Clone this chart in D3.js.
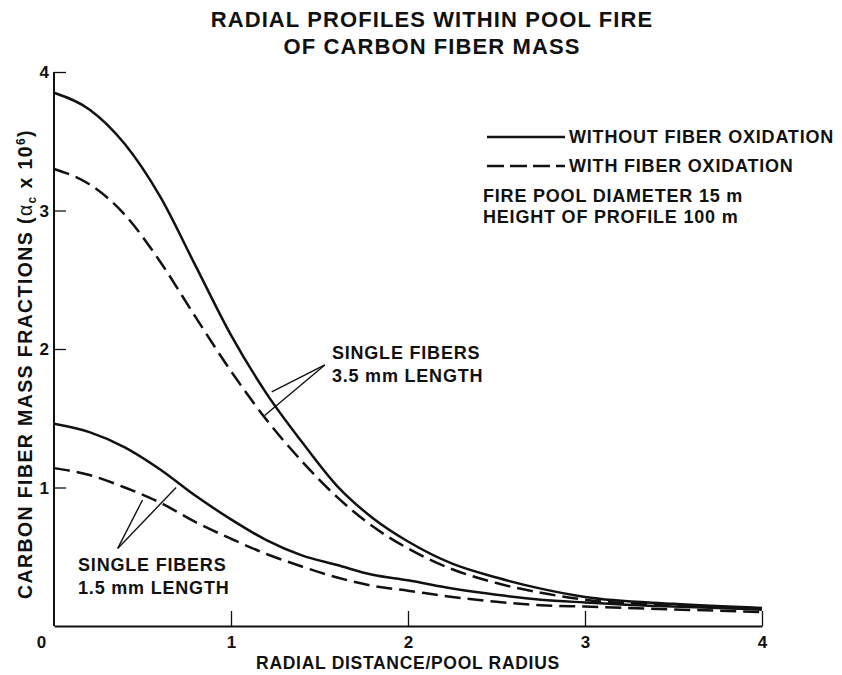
<!DOCTYPE html>
<html>
<head>
<meta charset="utf-8">
<script src="https://cdn.jsdelivr.net/npm/d3@7"></script>
<style>
  body { margin: 0; background: #fff; }
  svg text { font-family: "Liberation Sans", Arial, sans-serif; font-weight: bold; fill: #111; }
</style>
</head>
<body>
<div id="chart"></div>
<script>
// radial distance / pool radius
const radius = [0, 0.2, 0.4, 0.6, 0.8, 1.0, 1.2, 1.4, 1.6, 1.8, 2.0, 2.25, 2.5, 2.75, 3.0, 3.5, 4.0];

// carbon fiber mass fraction (alpha_c x 10^6)
const long_noOx   = [3.85, 3.73, 3.48, 3.10, 2.60, 2.10, 1.68, 1.33, 1.01, 0.78, 0.61, 0.45, 0.35, 0.27, 0.21, 0.16, 0.13];
const long_withOx = [3.30, 3.19, 2.97, 2.63, 2.23, 1.84, 1.49, 1.19, 0.93, 0.72, 0.56, 0.41, 0.31, 0.24, 0.19, 0.15, 0.12];
const short_noOx   = [1.46, 1.40, 1.29, 1.13, 0.94, 0.77, 0.62, 0.51, 0.44, 0.37, 0.33, 0.27, 0.225, 0.19, 0.17, 0.14, 0.12];
const short_withOx = [1.14, 1.09, 1.00, 0.89, 0.75, 0.63, 0.52, 0.43, 0.35, 0.29, 0.255, 0.21, 0.175, 0.15, 0.14, 0.12, 0.10];

const xTicks = [0, 1, 2, 3, 4];
const yTicks = [1, 2, 3, 4];

const titleLines = ["RADIAL PROFILES WITHIN POOL FIRE", "OF CARBON FIBER MASS"];
const legendItems = ["WITHOUT FIBER OXIDATION", "WITH FIBER OXIDATION"];
const notes = ["FIRE POOL DIAMETER 15 m", "HEIGHT OF PROFILE 100 m"];

// annotation anchors in data units: label, apex of the leaders, leader ends
const annotations = [
    {lines: ["SINGLE FIBERS", "3.5 mm LENGTH"], at: [1.57, 1.97], apex: [1.53, 1.885], ends: [[1.23, 1.69], [1.19, 1.52]]},
    {lines: ["SINGLE FIBERS", "1.5 mm LENGTH"], at: [0.136, 0.44], apex: [0.36, 0.56], ends: [[0.50, 0.91], [0.69, 1.00]]}
];

const W = 842, H = 675;
const svg = d3.select("#chart").append("svg")
    .attr("width", W)
    .attr("height", H);

const x = d3.scaleLinear().domain([0, 4]).range([54, 762]);
const y = d3.scaleLinear().domain([0, 4]).range([626, 72]);

// title
svg.append("g").selectAll("text")
    .data(titleLines)
    .join("text")
    .attr("x", 432)
    .attr("y", (d, i) => 27 + i * 27)
    .attr("text-anchor", "middle")
    .style("font-size", "22px")
    .style("letter-spacing", "1.1px")
    .text(d => d);

// axes
const xAxis = svg.append("g")
    .attr("transform", "translate(0," + y(0) + ")")
    .call(d3.axisBottom(x).tickValues(xTicks).tickSize(-15).tickSizeOuter(0).tickPadding(10).tickFormat(d3.format("d")));

const yAxis = svg.append("g")
    .attr("transform", "translate(" + x(0) + ",0)")
    .call(d3.axisLeft(y).tickValues(yTicks).tickSize(-12).tickSizeOuter(0).tickPadding(5).tickFormat(d3.format("d")));

[xAxis, yAxis].forEach(a => {
    a.select(".domain").attr("stroke", "#111").attr("stroke-width", 2);
    a.selectAll(".tick line").attr("stroke", "#111").attr("stroke-width", 1.3);
    a.selectAll(".tick text")
        .style("font-family", "'Liberation Sans', Arial, sans-serif")
        .style("font-weight", "bold")
        .style("font-size", "17px")
        .attr("fill", "#111");
});
xAxis.selectAll(".tick").filter(d => d === 0).select("line").remove();
xAxis.selectAll(".tick").filter(d => d === 0).select("text").attr("x", -13);
yAxis.selectAll(".tick text").attr("dy", "0.35em");

// y domain ends at 4 tick
yAxis.select(".domain").attr("d", "M0," + y(0) + "V" + y(4));

// axis titles
svg.append("text")
    .attr("x", (x(0) + x(4)) / 2)
    .attr("y", 669)
    .attr("text-anchor", "middle")
    .style("font-size", "17.5px")
    .style("letter-spacing", "0.7px")
    .text("RADIAL DISTANCE/POOL RADIUS");

const yTitle = svg.append("text")
    .attr("transform", "translate(32," + 364 + ") rotate(-90)")
    .attr("text-anchor", "middle")
    .style("font-size", "19.5px")
    .style("letter-spacing", "1.4px");
yTitle.append("tspan").text("CARBON FIBER MASS FRACTIONS (");
yTitle.append("tspan").style("font-weight", "normal").text("α");
yTitle.append("tspan").attr("dy", 4).style("font-size", "12px").text("c");
yTitle.append("tspan").attr("dy", -4).text(" x 10");
yTitle.append("tspan").attr("dy", -7).style("font-size", "12px").text("6");
yTitle.append("tspan").attr("dy", 7).text(")");

// curves
const line = d3.line()
    .x(d => x(d[0]))
    .y(d => y(d[1]))
    .curve(d3.curveMonotoneX);

const series = [
    {values: long_noOx, dashed: false},
    {values: long_withOx, dashed: true},
    {values: short_noOx, dashed: false},
    {values: short_withOx, dashed: true}
];

svg.append("g").selectAll("path")
    .data(series)
    .join("path")
    .attr("d", s => line(radius.map((r, i) => [r, s.values[i]])))
    .attr("fill", "none")
    .attr("stroke", "#111")
    .attr("stroke-width", 2.5)
    .attr("stroke-dasharray", s => s.dashed ? "16,7" : null);

// legend
const legend = svg.append("g");
legendItems.forEach((t, i) => {
    const ly = 137 + i * 29;
    legend.append("line")
        .attr("x1", 487).attr("x2", 565)
        .attr("y1", ly).attr("y2", ly)
        .attr("stroke", "#111")
        .attr("stroke-width", 2.5)
        .attr("stroke-dasharray", i === 1 ? "17,6" : null);
    legend.append("text")
        .attr("x", 569)
        .attr("y", ly)
        .attr("dy", "0.35em")
        .style("font-size", "18px")
        .style("letter-spacing", "0.8px")
        .text(t);
});
notes.forEach((t, i) => {
    legend.append("text")
        .attr("x", 483)
        .attr("y", 196 + i * 21)
        .attr("dy", "0.35em")
        .style("font-size", "18px")
        .style("letter-spacing", "0.8px")
        .text(t);
});

// annotations
annotations.forEach(a => {
    const g = svg.append("g");
    a.ends.forEach(e => {
        g.append("line")
            .attr("x1", x(a.apex[0])).attr("y1", y(a.apex[1]))
            .attr("x2", x(e[0])).attr("y2", y(e[1]))
            .attr("stroke", "#111")
            .attr("stroke-width", 1.4);
    });
    g.selectAll("text")
        .data(a.lines)
        .join("text")
        .attr("x", x(a.at[0]))
        .attr("y", (d, i) => y(a.at[1]) + i * 23)
        .attr("dy", "0.35em")
        .style("font-size", "18px")
        .style("letter-spacing", "0.8px")
        .text(d => d);
});
</script>
</body>
</html>
